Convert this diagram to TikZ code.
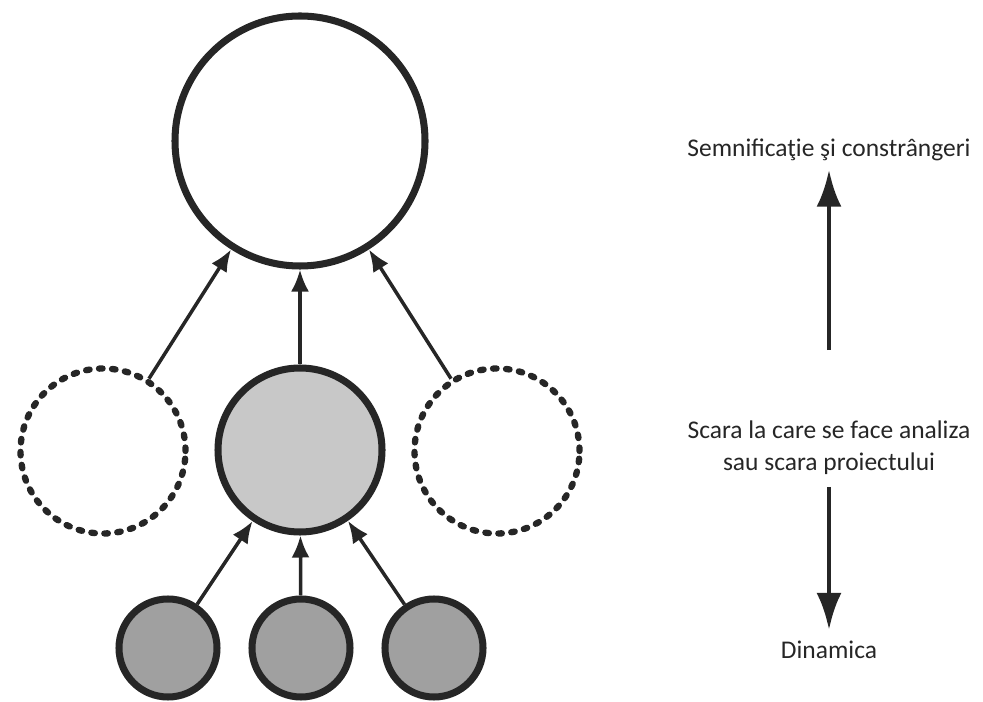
\documentclass[tikz,border=0pt]{standalone}
\usepackage{fontspec}
\setmainfont{Carlito}
\usetikzlibrary{arrows.meta}
\definecolor{ink}{HTML}{262626}
\definecolor{coregray}{HTML}{C8C8C8}
\definecolor{smallgray}{HTML}{A0A0A0}
\begin{document}
\begin{tikzpicture}[
  ring/.style={circle, draw=ink, line width=4pt, inner sep=0pt, outer sep=2pt},
  big/.style={ring, fill=white, minimum size=5.0cm},
  core/.style={ring, fill=coregray, minimum size=3.28cm},
  small/.style={ring, fill=smallgray, minimum size=1.96cm},
  ghost/.style={circle, draw=ink, line width=3.6pt, line cap=round,
                dash pattern=on 2pt off 5.4pt, inner sep=0pt,
                outer sep=1.8pt, minimum size=3.3cm},
  lbl/.style={font=\fontsize{14.5}{18}\selectfont, text=ink, align=center},
  a/.style={draw=ink, line width=2pt, -{Latex[length=4.4mm,width=3.6mm]}},
  ax/.style={draw=ink, line width=2.8pt, -{Latex[length=7.4mm,width=5mm]}}]

  \useasboundingbox (0,0) rectangle (19.66,-14.04);

  \node[big]   (top)  at (6.0,-2.82)  {};
  \node[ghost] (lft)  at (2.06,-9.02) {};
  \node[core]  (mid)  at (6.0,-9.0)   {};
  \node[ghost] (rgt)  at (9.94,-9.02) {};
  \node[small] (b1)   at (3.36,-12.96) {};
  \node[small] (b2)   at (6.02,-12.96) {};
  \node[small] (b3)   at (8.68,-12.96) {};

  \node[lbl] (sem)   at (16.58,-3.0)  {Semnificaţie şi constrângeri};
  \node[lbl] (scara) at (16.58,-8.96) {Scara la care se face analiza\\sau scara proiectului};
  \node[lbl] (din)   at (16.58,-13.0) {Dinamica};

  \draw[a] (lft) -- (top);
  \draw[a] (mid) -- (top);
  \draw[a] (rgt) -- (top);
  \draw[a] (b1) -- (mid);
  \draw[a] (b2) -- (mid);
  \draw[a] (b3) -- (mid);

  \draw[ax, shorten <=1.3cm, shorten >=0.05cm] (scara) -- (sem);
  \draw[ax, shorten <=0.12cm, shorten >=0.1cm] (scara) -- (din);

\end{tikzpicture}
\end{document}
